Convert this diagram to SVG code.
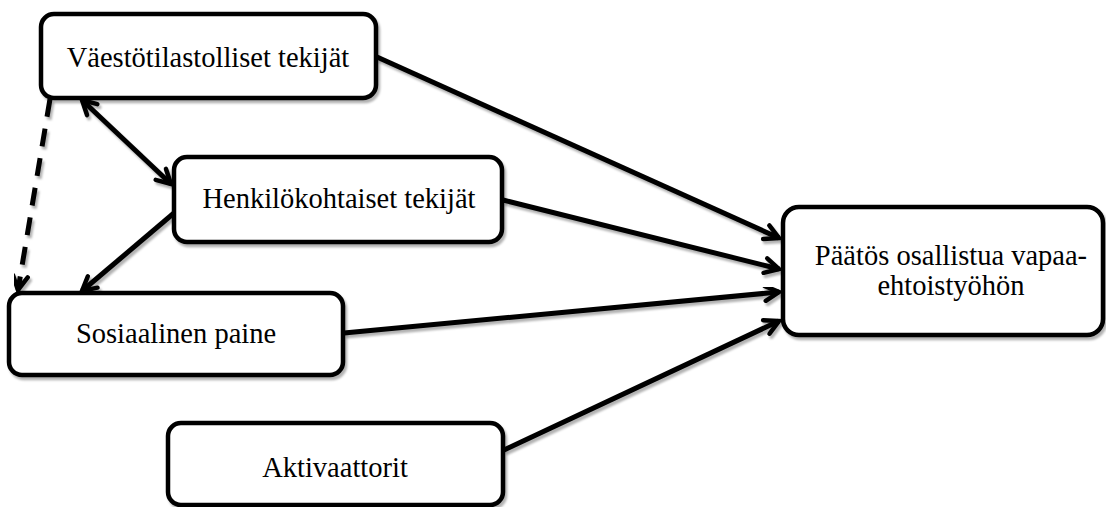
<svg xmlns="http://www.w3.org/2000/svg" width="1106" height="507" viewBox="0 0 1106 507">
<defs>
<style>
.box{fill:#fff;stroke:#000;stroke-width:4.5;filter:url(#sh)}
.lbl{font-family:"Liberation Serif","DejaVu Serif",serif;font-size:28.5px;fill:#000;text-anchor:middle}
.ln{stroke:#000;stroke-width:5;fill:none;marker-end:url(#ah);filter:url(#sh)}
</style>
<filter id="sh" x="-10%" y="-10%" width="130%" height="140%">
<feDropShadow dx="2" dy="3" stdDeviation="1.2" flood-color="#000" flood-opacity="0.3"/>
</filter>
<marker id="ah" viewBox="0 0 20 20" markerWidth="20" markerHeight="20" refX="17" refY="10" orient="auto-start-reverse" markerUnits="userSpaceOnUse">
<path d="M3,2.5 L17,10 L3,17.5" fill="none" stroke="#000" stroke-width="4.5" stroke-linecap="round" stroke-linejoin="miter"/>
</marker>
</defs>
<rect width="1106" height="507" fill="#fff"/>
<g id="connectors">
<line class="ln" x1="377" y1="57" x2="779" y2="238"/>
<line class="ln" x1="503" y1="200" x2="779" y2="269"/>
<line class="ln" x1="344" y1="333" x2="779" y2="292"/>
<line class="ln" x1="504" y1="450" x2="779" y2="321"/>
<line class="ln" x1="82" y1="100" x2="171" y2="184" marker-start="url(#ah)"/>
<line class="ln" x1="174" y1="213" x2="82" y2="291"/>
<line class="ln" x1="50" y1="99" x2="18" y2="290" stroke-dasharray="18,12"/>
</g>
<g id="n1">
<rect class="box" x="41" y="14" width="335" height="84" rx="13"/>
<text class="lbl" x="208" y="67">Väestötilastolliset tekijät</text>
</g>
<g id="n2">
<rect class="box" x="174" y="157" width="328" height="85" rx="13"/>
<text class="lbl" x="339" y="208">Henkilökohtaiset tekijät</text>
</g>
<g id="n3">
<rect class="box" x="9" y="293" width="334" height="82" rx="13"/>
<text class="lbl" x="176" y="343">Sosiaalinen paine</text>
</g>
<g id="n4">
<rect class="box" x="168" y="423" width="335" height="82" rx="13"/>
<text class="lbl" x="335" y="477">Aktivaattorit</text>
</g>
<g id="n5">
<rect class="box" x="783" y="207" width="320" height="128" rx="16"/>
<text class="lbl" x="951" y="265">Päätös osallistua vapaa-</text>
<text class="lbl" x="951" y="295">ehtoistyöhön</text>
</g>
</svg>
